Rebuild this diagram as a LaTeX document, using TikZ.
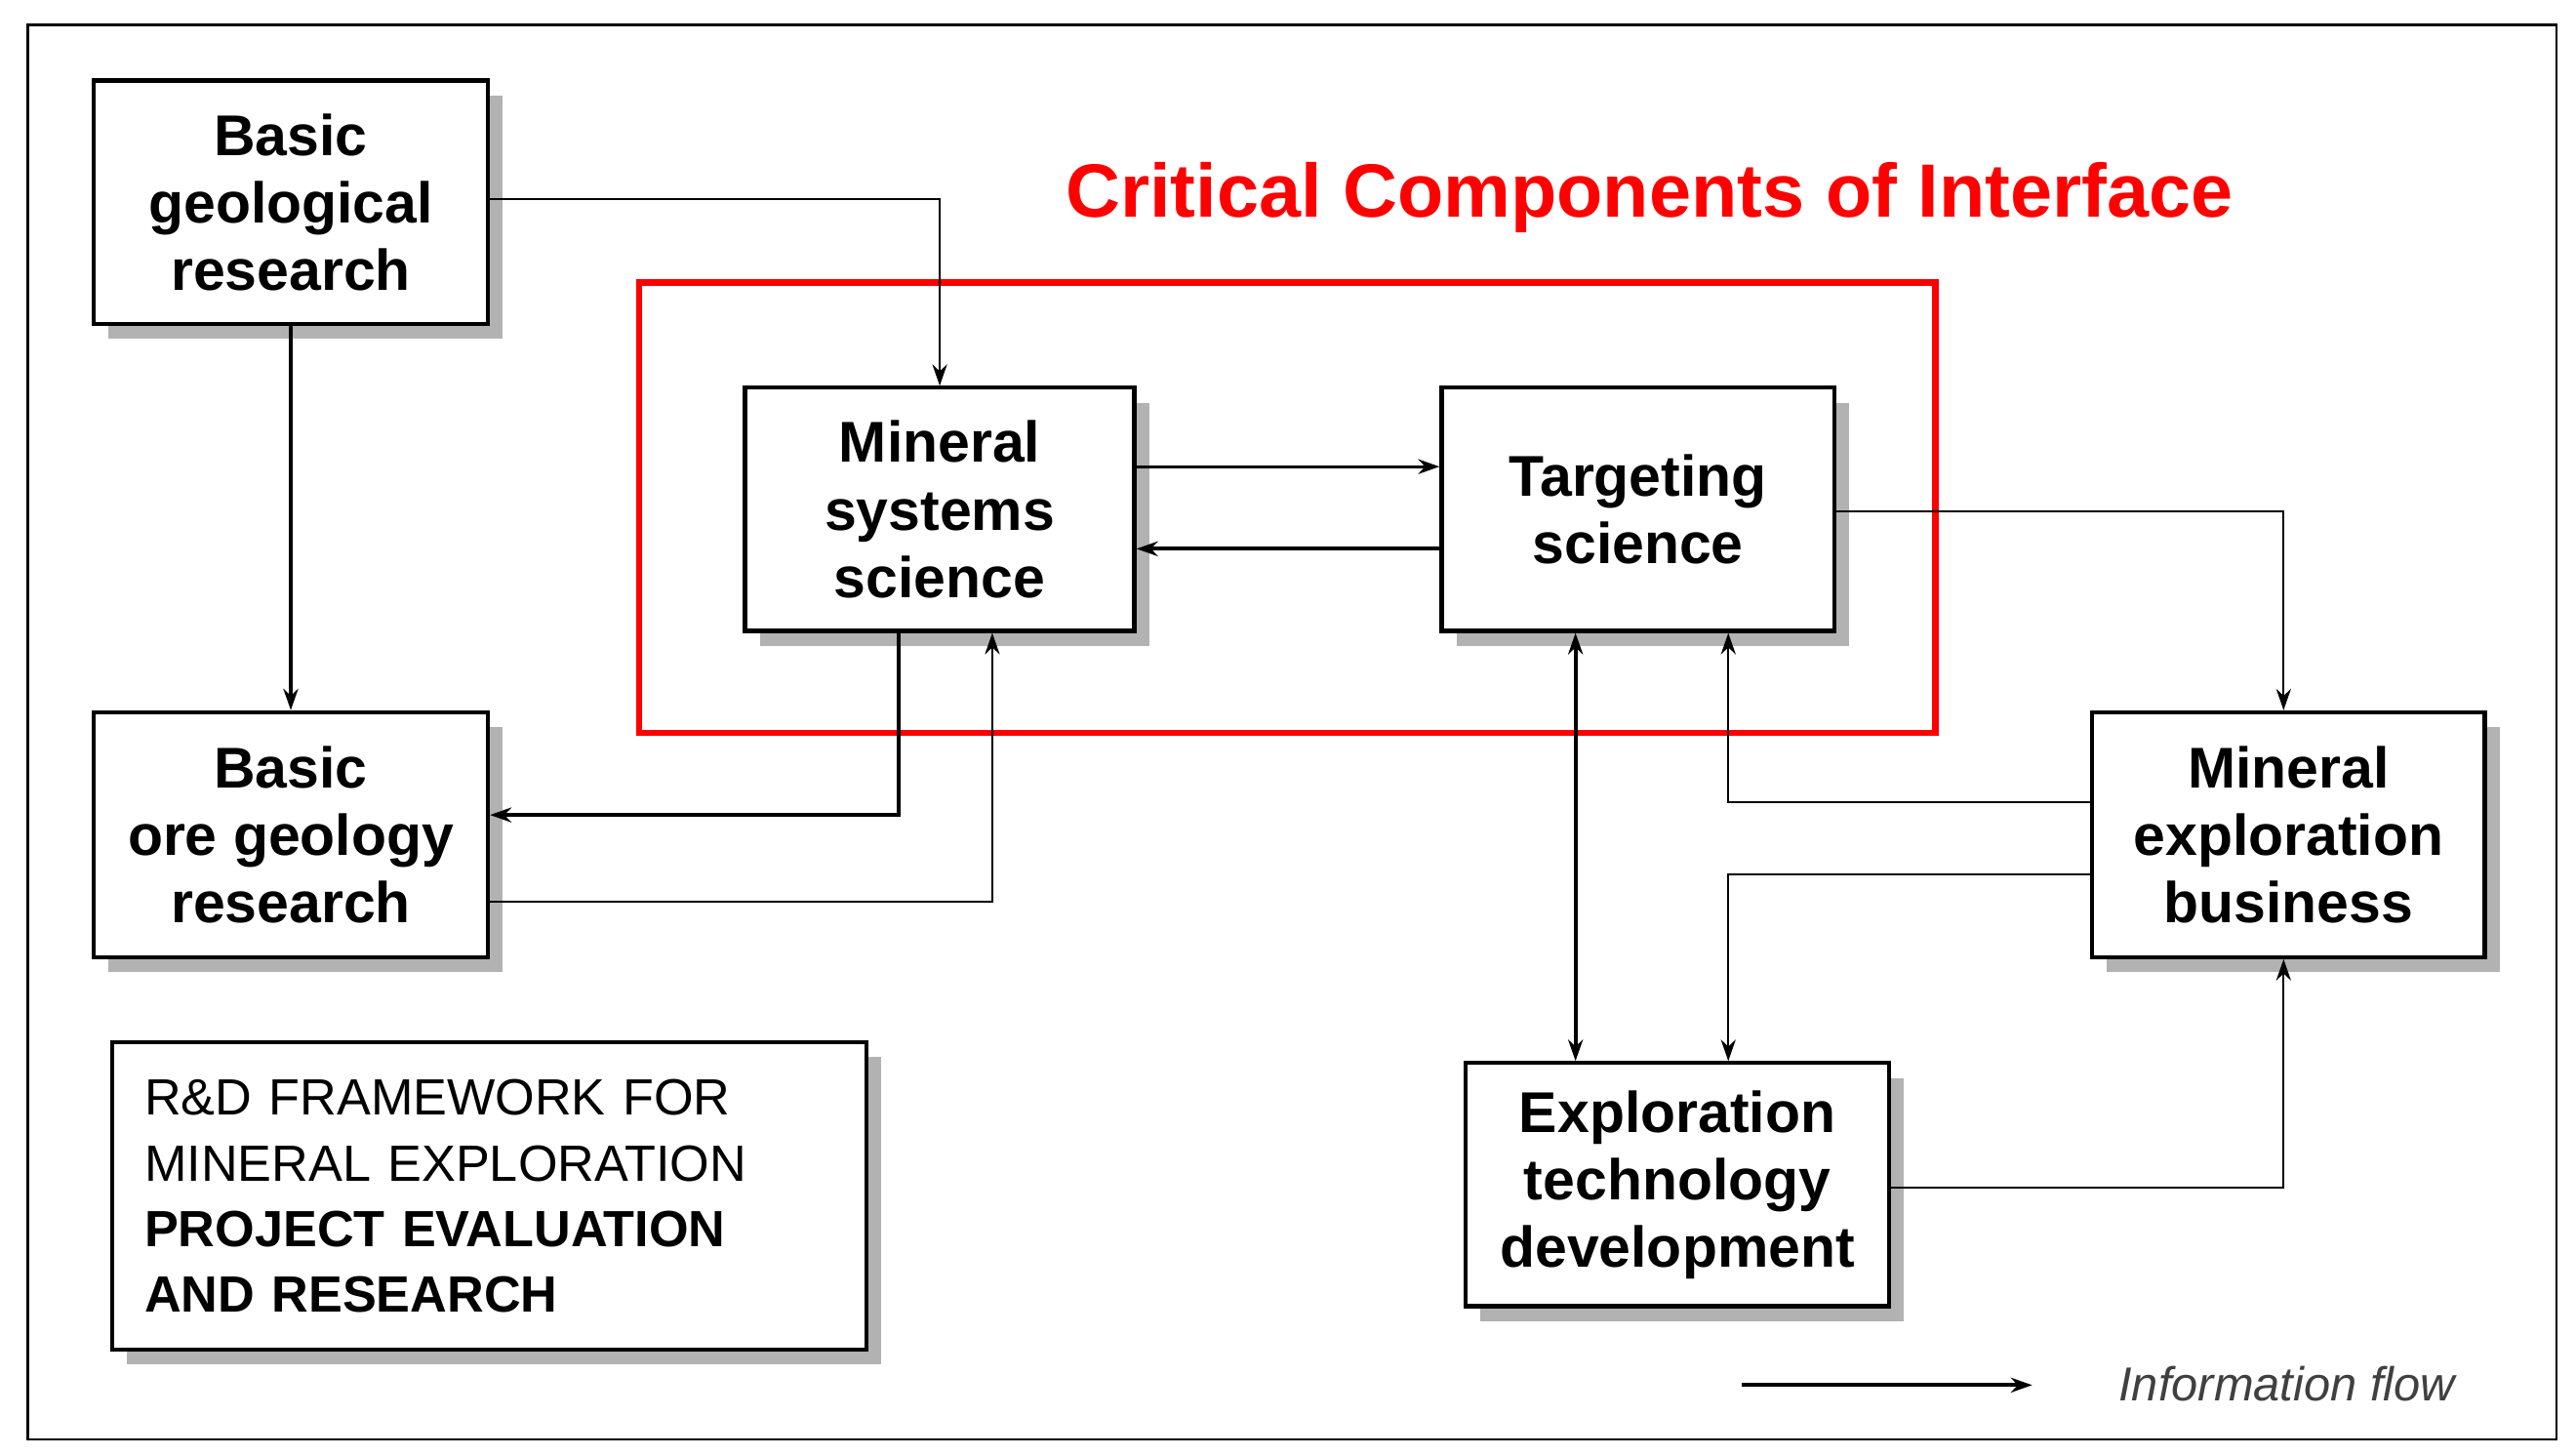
\documentclass[tikz,border=0pt]{standalone}
\usepackage{fontspec}
\setmainfont{Liberation Sans}
\usetikzlibrary{shadows,arrows.meta}
\begin{document}
\begin{tikzpicture}[x=1pt,y=-1pt,
 box/.style={draw=black,line width=2.5pt,fill=white,align=center,inner sep=0pt,
   font=\fontsize{35}{41}\selectfont\bfseries,
   drop shadow={shadow xshift=9pt,shadow yshift=-9pt,fill=gray!60,opacity=1}},
 thin/.style={line width=1.3pt,-{Stealth[length=13pt,width=9pt]}},
 thick/.style={line width=2.4pt,-{Stealth[length=13pt,width=9pt]}}]
\useasboundingbox (0,0) rectangle (1568,886);
\draw[line width=1.5pt] (17,15) rectangle (1556,876);
\draw[red,line width=4pt] (389,172) rectangle (1178,446);
\node[red,font=\fontsize{46}{52}\selectfont\bfseries] (title) at (1004,120) {Critical Components of Interface};
\node[box,minimum width=240pt,minimum height=148pt] (bgr) at (177,123) {Basic\\geological\\research};
\node[box,minimum width=240pt,minimum height=149pt] (bogr) at (177,508) {Basic\\ore geology\\research};
\node[box,minimum width=237pt,minimum height=148pt] (mss) at (572,310) {Mineral\\systems\\science};
\node[box,minimum width=239pt,minimum height=148pt] (ts) at (997,310) {Targeting\\science};
\node[box,minimum width=239pt,minimum height=149pt] (meb) at (1393,508) {Mineral\\exploration\\business};
\node[box,minimum width=258pt,minimum height=148pt] (etd) at (1021,721) {Exploration\\technology\\development};
\node[box,minimum width=459pt,minimum height=187pt,text width=420pt,font=\fontsize{31}{40}\selectfont,align=left] (rd) at (298,728)
 {R\&D FRAMEWORK FOR\\MINERAL EXPLORATION\\\textbf{PROJECT EVALUATION}\\\textbf{AND RESEARCH}};
% connectors
\draw[thin] (bgr.east |- 0,121) -| (mss.north -| 572,0);
\draw[thick] (bgr.south) -- (bogr.north);
\draw[thin,line width=1.8pt] (mss.east |- 0,284) -- (ts.west |- 0,284);
\draw[thick] (ts.west |- 0,334) -- (mss.east |- 0,334);
\draw[thick] (mss.south -| 547,0) |- (bogr.east |- 0,496);
\draw[thin] (bogr.east |- 0,549) -| (mss.south -| 604,0);
\draw[thin] (ts.east |- 0,311) -| (meb.north -| 1390,0);
\draw[thick,{Stealth[length=13pt,width=9pt]}-{Stealth[length=13pt,width=9pt]}] (ts.south -| 959,0) -- (etd.north -| 959,0);
\draw[thin] (meb.west |- 0,488) -| (ts.south -| 1052,0);
\draw[thin] (meb.west |- 0,532) -| (etd.north -| 1052,0);
\draw[thin] (etd.east |- 0,723) -| (meb.south -| 1390,0);
\coordinate (la) at (1060,843);
\coordinate (lb) at (1237,843);
\draw[thick] (la) -- (lb);
\node[font=\fontsize{29}{34}\selectfont\itshape,text=black!75] (lt) at (1392,842) {Information flow};
\end{tikzpicture}
\end{document}
